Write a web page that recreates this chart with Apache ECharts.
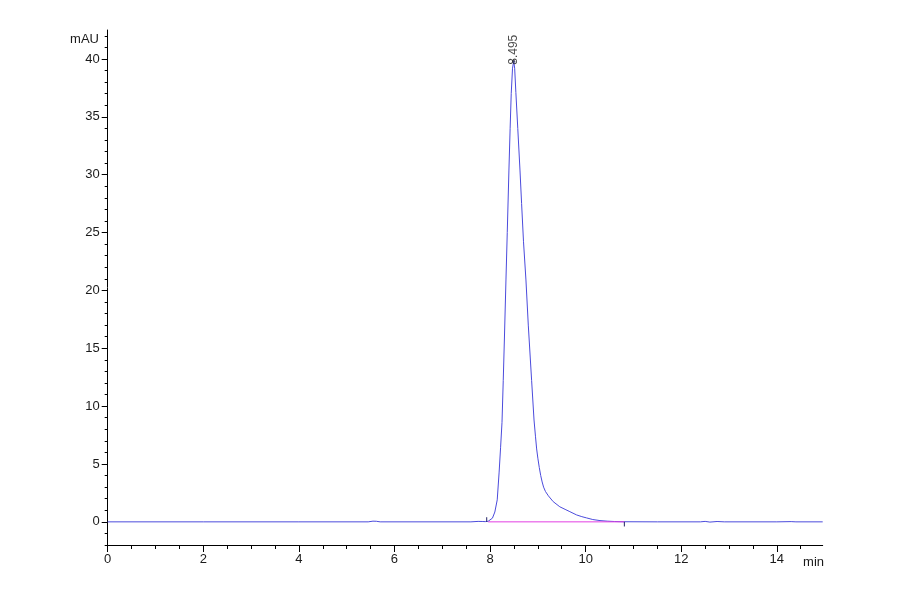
<!DOCTYPE html>
<html>
<head>
<meta charset="utf-8">
<script src="https://cdn.jsdelivr.net/npm/echarts@6/dist/echarts.min.js"></script>
<style>
html,body{margin:0;padding:0;background:#fff;}
#chart{width:900px;height:594px;}
</style>
</head>
<body>
<div id="chart"></div>
<script>
// Retention time (min) and signal (mAU)
var traceTime = [0, 2, 4, 5.45, 5.55, 5.62, 5.7, 7.6, 7.75, 7.85, 7.9, 7.96, 8.0, 8.05, 8.1, 8.15, 8.19, 8.22, 8.25, 8.276, 8.3, 8.333, 8.36, 8.395, 8.42, 8.443, 8.47, 8.495, 8.515, 8.54, 8.58, 8.626, 8.66, 8.7, 8.751, 8.8, 8.87, 8.92, 8.95, 8.975, 9.0, 9.03, 9.06, 9.09, 9.12, 9.16, 9.22, 9.32, 9.46, 9.57, 9.67, 9.81, 9.92, 10.02, 10.15, 10.3, 10.45, 10.6, 10.8, 11.5, 12.4, 12.5, 12.6, 12.75, 12.9, 13.0, 14.0, 14.3, 14.4, 14.96];
var traceSignal = [0, 0, 0, 0, 0.06, 0.05, 0, 0, 0.04, 0.03, 0.02, 0.05, 0.15, 0.32, 0.85, 1.9, 4.3, 6.4, 8.6, 12.2, 15.8, 20.9, 25.0, 30.4, 34.0, 37.0, 39.2, 39.8, 39.2, 37.1, 34.0, 30.4, 27.5, 24.2, 20.9, 17.0, 12.2, 8.8, 7.4, 6.3, 5.5, 4.7, 4.0, 3.45, 3.0, 2.62, 2.25, 1.75, 1.3, 1.08, 0.88, 0.6, 0.45, 0.34, 0.2, 0.11, 0.06, 0.03, 0.01, 0, 0, 0.04, -0.02, 0.03, 0, 0, 0, 0.02, 0, 0];

// Integration baseline (start/end of peak)
var baselineTime = [7.96, 10.81];
var baselineSignal = [0, 0];

// Integration event marks
var eventTime = [7.93, 7.93, null, 10.81, 10.81];
var eventSignal = [0, 0.4, null, 0, -0.4];

// Peak annotation
var peakTime = [8.495];
var peakSignal = [39.8];
var peakLabels = ['8.495'];

// Axis ticks
var xMajorTicks = [0, 2, 4, 6, 8, 10, 12, 14];
var yMajorTicks = [0, 5, 10, 15, 20, 25, 30, 35, 40];
var yMinorTicks = [-2, -1, 1, 2, 3, 4, 6, 7, 8, 9, 11, 12, 13, 14, 16, 17, 18, 19, 21, 22, 23, 24, 26, 27, 28, 29, 31, 32, 33, 34, 36, 37, 38, 39, 41, 42];

var xMin = 0, xMax = 14.96, xInterval = 2;
var yMin = -2, yMax = 42.5, yInterval = 1;

function pairs(t, v) {
  return t.map(function (x, i) { return x === null ? [null, null] : [x, v[i]]; });
}

var labelFont = "'Liberation Sans Narrow', 'Liberation Sans', Arial, sans-serif";
var chart = echarts.init(document.getElementById('chart'), null, {renderer: 'canvas'});
chart.setOption({
  animation: false,
  backgroundColor: '#ffffff',
  grid: {left: 107.7, right: 77.3, top: 30, bottom: 49, containLabel: false},
  xAxis: {
    type: 'value', min: xMin, max: xMax, interval: xInterval,
    axisLine: {show: true, onZero: false, lineStyle: {color: '#000', width: 1}},
    axisTick: {show: true, inside: false, length: 7, customValues: xMajorTicks, lineStyle: {color: '#000'}},
    minorTick: {show: true, splitNumber: 4, length: 4, lineStyle: {color: '#000'}},
    splitLine: {show: false},
    axisLabel: {margin: 8, fontSize: 13, color: '#1a1a1a', fontFamily: labelFont, customValues: xMajorTicks}
  },
  yAxis: [
    {
      type: 'value', min: yMin, max: yMax, interval: yInterval, position: 'left',
      axisLine: {show: true, onZero: false, lineStyle: {color: '#000', width: 1}},
      axisTick: {show: true, inside: false, length: 6, customValues: yMajorTicks, lineStyle: {color: '#000'}},
      splitLine: {show: false},
      axisLabel: {margin: 8, fontSize: 13, color: '#1a1a1a', fontFamily: labelFont, customValues: yMajorTicks}
    },
    {
      type: 'value', min: yMin, max: yMax, interval: yInterval, position: 'left', offset: 0,
      axisLine: {show: false, onZero: false},
      axisTick: {show: true, inside: false, length: 3, customValues: yMinorTicks, lineStyle: {color: '#000'}},
      splitLine: {show: false},
      axisLabel: {show: false}
    }
  ],
  graphic: [
    {type: 'text', right: 801, top: 33, style: {text: 'mAU', fontSize: 13, fill: '#1a1a1a', font: "13px " + labelFont}},
    {type: 'text', right: 76, top: 556, style: {text: 'min', fontSize: 13, fill: '#1a1a1a', font: "13px " + labelFont}}
  ],
  series: [
    {
      type: 'line', data: pairs(traceTime, traceSignal), showSymbol: false, symbol: 'none',
      lineStyle: {color: '#4b4bdc', width: 1}, z: 2
    },
    {
      type: 'line', data: pairs(baselineTime, baselineSignal), showSymbol: false, symbol: 'none',
      lineStyle: {color: '#e33fe3', width: 1}, z: 3
    },
    {
      type: 'line', data: pairs(eventTime, eventSignal), showSymbol: false, symbol: 'none', connectNulls: false,
      lineStyle: {color: '#222266', width: 1}, z: 3
    },
    {
      type: 'scatter', data: pairs(peakTime, peakSignal), symbolSize: 3, itemStyle: {color: '#333355'}, z: 4,
      label: {
        show: true, position: 'top', distance: -5, rotate: 90, align: 'left', verticalAlign: 'middle',
        fontSize: 12, color: '#1a1a1a', fontFamily: labelFont,
        formatter: function (p) { return peakLabels[p.dataIndex]; }
      }
    }
  ]
});
</script>
</body>
</html>
